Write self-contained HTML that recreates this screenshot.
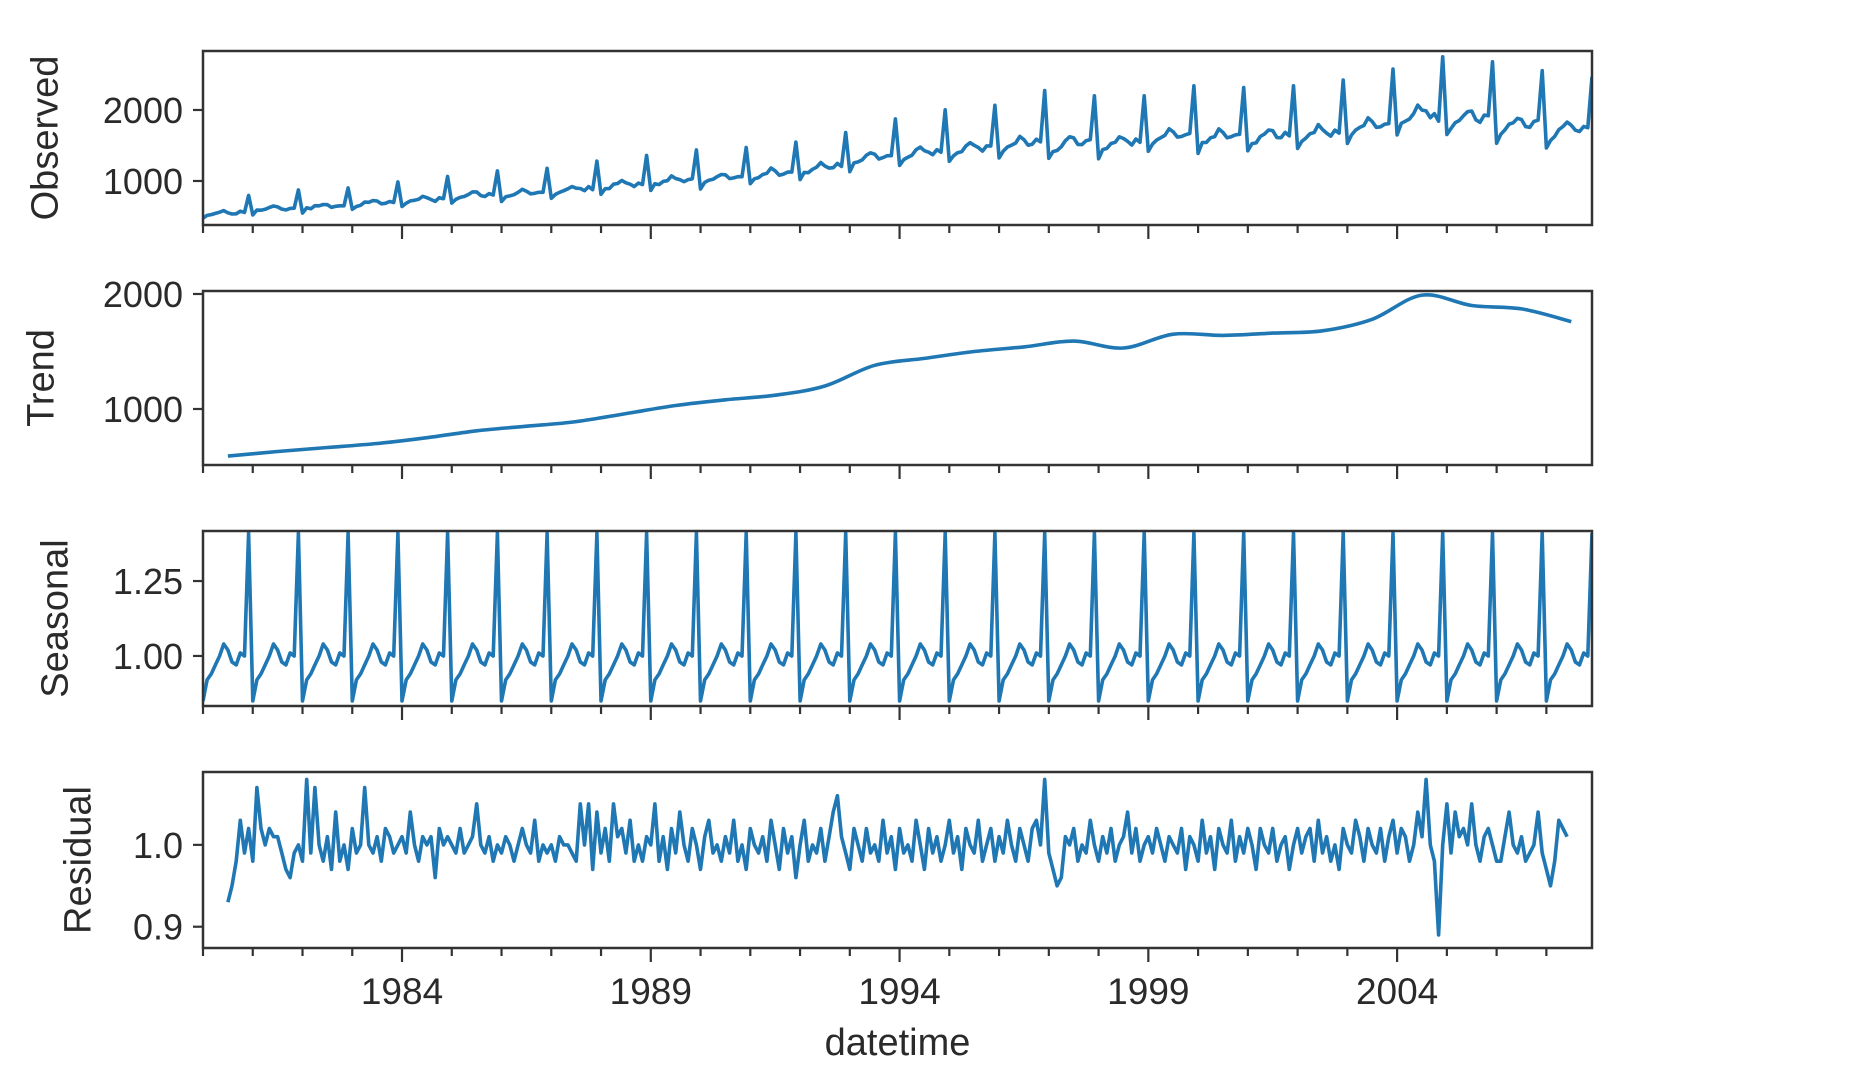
<!DOCTYPE html>
<html><head><meta charset="utf-8"><style>
html,body{margin:0;padding:0;background:#fff;}
svg{display:block;font-family:"Liberation Sans","DejaVu Sans",sans-serif;}
</style></head><body>
<svg id="chart" width="1876" height="1086" viewBox="0 0 1876 1086" xmlns="http://www.w3.org/2000/svg"></svg>
<script>
const years = [1980,1981,1982,1983,1984,1985,1986,1987,1988,1989,1990,1991,1992,1993,1994,1995,1996,1997,1998,1999,2000,2001,2002,2003,2004,2005,2006,2007];
const observedLevel = [560,620,650,700,750,810,840,890,960,1020,1060,1120,1200,1350,1420,1480,1550,1560,1560,1660,1650,1660,1700,1800,1950,1900,1820,1750];
const trendMidYear = [590,630,665,700,750,810,850,890,960,1030,1080,1120,1200,1380,1440,1500,1540,1590,1530,1650,1640,1660,1680,1780,1990,1900,1870,1760];
const seasonalFactors = [0.85,0.92,0.94,0.97,1.00,1.04,1.02,0.98,0.97,1.01,1.00,1.41];
const residual = [
.93,.95,.98,1.03,.99,1.02,.98,1.07,1.02,1.00,1.02,1.01,
1.01,.99,.97,.96,.99,1.00,.98,1.08,.99,1.07,1.00,.98,
1.01,.97,1.04,.98,1.00,.97,1.02,.99,1.00,1.07,1.00,.99,
1.01,.98,1.02,1.01,.99,1.00,1.01,.99,1.04,1.00,.98,1.01,
1.00,1.01,.96,1.02,1.00,1.01,1.00,.99,1.02,.99,1.00,1.01,
1.05,1.00,.99,1.01,.98,1.00,.99,1.01,1.00,.98,1.00,1.02,
1.00,.99,1.03,.98,1.00,.99,1.00,.98,1.01,1.00,1.00,.99,
.98,1.05,1.00,1.05,.97,1.04,.99,1.02,.98,1.05,1.01,1.02,
.99,1.03,.98,1.00,.98,1.01,1.00,1.05,.98,1.01,.97,1.02,
.99,1.04,1.00,.98,1.02,1.00,.97,1.01,1.03,.99,1.00,.98,
1.01,.99,1.03,.98,1.00,.97,1.02,1.00,.99,1.01,.98,1.03,
1.00,.97,1.02,.99,1.01,.96,1.00,1.03,.98,1.00,.99,1.02,
.98,1.01,1.04,1.06,1.01,.99,.97,1.02,1.00,.98,1.02,.99,
1.00,.98,1.03,.99,1.01,.97,1.02,.99,1.00,.98,1.03,1.00,
.97,1.02,.99,1.01,.98,1.00,1.03,.99,1.01,.97,1.02,1.00,
.99,1.03,.98,1.00,1.02,.98,1.01,.99,1.03,1.00,.98,1.02,
1.00,.98,1.02,1.03,1.00,1.08,.99,.97,.95,.96,1.01,1.00,
1.02,.98,1.00,.99,1.03,1.00,.98,1.01,.99,1.02,.98,1.00,
1.01,1.04,.99,1.02,.98,1.00,1.01,.99,1.02,1.00,.98,1.01,
1.00,.99,1.02,.97,1.01,1.00,.98,1.03,.99,1.01,.97,1.02,
1.00,.99,1.03,.98,1.01,.99,1.02,1.00,.97,1.02,1.00,.99,
1.02,.98,1.00,1.01,.97,1.00,1.02,.99,1.01,1.02,.98,1.03,
.99,1.01,.98,1.00,.97,1.02,1.00,.99,1.03,1.01,.98,1.02,
1.00,.99,1.02,.98,1.01,1.03,.99,1.02,1.01,.98,1.00,1.04,
1.01,1.08,1.00,.98,.89,1.00,1.05,.99,1.04,1.01,1.02,1.00,
1.05,1.00,.98,1.01,1.02,1.00,.98,.98,1.01,1.04,1.00,.99,
1.01,.98,.99,1.00,1.04,.99,.97,.95,.98,1.03,1.02,1.01];
const residualStart = 1980.5;
const xTickLabels = ["1984","1989","1994","1999","2004"];
const obsTicks = [1000,2000], trendTicks = [1000,2000], seasTicks = [1.00,1.25], residTicks = [0.9,1.0];

const NS = "http://www.w3.org/2000/svg";
const svg = document.getElementById('chart');
const X0 = 203, X1 = 1592, T0 = 1980.0, T1 = 2007.917;
function xs(t){ return X0 + (t - T0) / (T1 - T0) * (X1 - X0); }
function mk(tag, attrs, parent){ const e = document.createElementNS(NS, tag); for (const k in attrs) e.setAttribute(k, attrs[k]); (parent||svg).appendChild(e); return e; }

const panels = [
 {name:'observed', label:'Observed', top:51, bot:225, ymin:380, ymax:2831, ticks:obsTicks, fmt:v=>String(v), lx:44, smooth:false},
 {name:'trend', label:'Trend', top:291, bot:465, ymin:513, ymax:2026, ticks:trendTicks, fmt:v=>String(v), lx:40, smooth:true},
 {name:'seasonal', label:'Seasonal', top:531, bot:706, ymin:0.833, ymax:1.417, ticks:seasTicks, fmt:v=>v.toFixed(2), lx:54, smooth:false},
 {name:'residual', label:'Residual', top:772, bot:948, ymin:0.874, ymax:1.089, ticks:residTicks, fmt:v=>v.toFixed(1), lx:77, smooth:false}
];

const nMonths = years.length * 12;
const obsT = [], obsV = [], seasT = [], seasV = [];
for (let i = 0; i < nMonths; i++) {
  const t = T0 + i / 12;
  const yi = Math.floor(i / 12), m = i % 12;
  const ri = Math.round((t - residualStart) * 12);
  const r = (ri >= 0 && ri < residual.length) ? residual[ri] : 1;
  obsT.push(t); obsV.push(observedLevel[yi] * seasonalFactors[m] * (1 + (r - 1) * 0.5));
  seasT.push(t); seasV.push(seasonalFactors[m]);
}
const trT = years.map(y => y + 0.5), trV = trendMidYear.slice();
const reT = residual.map((_, i) => residualStart + i / 12);
const series = [[obsT,obsV],[trT,trV],[seasT,seasV],[reT,residual]];

function linePath(P){ return P.map((p,i)=>(i?'L':'M')+p[0].toFixed(1)+' '+p[1].toFixed(1)).join(' '); }
function smoothPath(P){
  let d = 'M'+P[0][0].toFixed(1)+' '+P[0][1].toFixed(1);
  for (let i=0;i<P.length-1;i++){
    const p0=P[Math.max(0,i-1)], p1=P[i], p2=P[i+1], p3=P[Math.min(P.length-1,i+2)];
    const c1=[p1[0]+(p2[0]-p0[0])/6, p1[1]+(p2[1]-p0[1])/6];
    const c2=[p2[0]-(p3[0]-p1[0])/6, p2[1]-(p3[1]-p1[1])/6];
    d+=' C'+c1[0].toFixed(1)+' '+c1[1].toFixed(1)+' '+c2[0].toFixed(1)+' '+c2[1].toFixed(1)+' '+p2[0].toFixed(1)+' '+p2[1].toFixed(1);
  }
  return d;
}

panels.forEach((p, pi) => {
  const g = mk('g', {});
  
  
  const ys = v => p.bot - (v - p.ymin) / (p.ymax - p.ymin) * (p.bot - p.top);
  const clipId = 'clip' + pi;
  const cp = mk('clipPath', {id: clipId}, g);
  mk('rect', {x:X0, y:p.top, width:X1-X0, height:p.bot-p.top}, cp);
  const [ts, vs] = series[pi];
  const P = ts.map((t,i)=>[xs(t), ys(vs[i])]);
  const d = p.smooth ? smoothPath(P) : linePath(P);
  const path = mk('path', {d:d, fill:'none', stroke:'#1f77b4', 'stroke-width':3.6, 'stroke-linejoin':'round', 'clip-path':'url(#'+clipId+')'}, g);
  
  
  const frame = mk('rect', {x:X0, y:p.top, width:X1-X0, height:p.bot-p.top, fill:'none', stroke:'#333', 'stroke-width':2.5}, g);
  
  
  p.ticks.forEach(v => {
    const y = ys(v);
    mk('line', {x1:X0-10, x2:X0, y1:y, y2:y, stroke:'#333', 'stroke-width':2.2}, g);
    const tx = mk('text', {x:X0-20, y:y+13, 'text-anchor':'end', 'font-size':36, fill:'#2a2a2a'}, g);
    tx.textContent = p.fmt(v);
    
    
  });
  for (let yr = 1980; yr <= 2007; yr++) {
    const x = xs(yr);
    const major = (yr - 1984) % 5 === 0;
    mk('line', {x1:x, x2:x, y1:p.bot, y2:p.bot + (major ? 14 : 8), stroke:'#333', 'stroke-width':2.2}, g);
  }
  const yl = mk('text', {x:p.lx, y:(p.top+p.bot)/2, 'text-anchor':'middle', 'font-size':38, fill:'#2a2a2a', transform:'rotate(-90 '+p.lx+' '+((p.top+p.bot)/2)+')', dy:'0.35em'}, g);
  yl.textContent = p.label;
  
  
});

xTickLabels.forEach(lbl => {
  const t = mk('text', {x:xs(+lbl), y:1004, 'text-anchor':'middle', 'font-size':37, fill:'#2a2a2a'});
  t.textContent = lbl;
  
  
});
const xt = mk('text', {x:(X0+X1)/2, y:1055, 'text-anchor':'middle', 'font-size':38, fill:'#2a2a2a'});
xt.textContent = 'datetime';


</script>
</body></html>
